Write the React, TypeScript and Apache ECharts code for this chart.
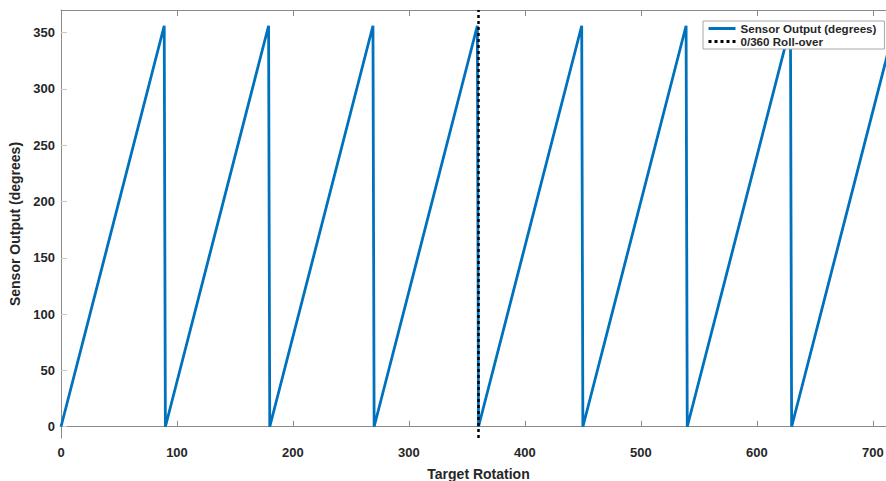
import React, { useEffect, useRef } from "react";
import * as echarts from "echarts";

// Sawtooth key points: [target rotation, sensor output]
const targetRotation = [0, 89, 90, 179, 180, 269, 270, 359, 360, 449, 450, 539, 540, 629, 630, 719];
const sensorOutput = [0, 356, 0, 356, 0, 356, 0, 356, 0, 356, 0, 356, 0, 356, 0, 356];
const rollOverX = [360, 360];
const rollOverY = [-10, 370];
const xTicks = [0, 100, 200, 300, 400, 500, 600, 700];
const yTicks = [0, 50, 100, 150, 200, 250, 300, 350];

const FONT = "Liberation Sans, Arial, Helvetica, sans-serif";
const TXT = "#262626";
const AX = "#8a8a8a";

export default function App() {
  const ref = useRef<HTMLDivElement>(null);
  useEffect(() => {
    if (!ref.current) return;
    const chart = echarts.init(ref.current, null, { renderer: "svg" });
    const sensorData = targetRotation.map((x, i) => [x, sensorOutput[i]]);
    const rollData = rollOverX.map((x, i) => [x, rollOverY[i]]);
    chart.setOption({
      animation: false,
      backgroundColor: "#ffffff",
      textStyle: { fontFamily: FONT },
      grid: { left: 61, top: 10, bottom: 43, width: 835, containLabel: false, outerBoundsMode: "none" },
      legend: {
        orient: "vertical",
        left: 703,
        top: 21,
        padding: [1, 8, 1, 4],
        itemGap: 0,
        itemWidth: 27,
        itemHeight: 12,
        backgroundColor: "#ffffff",
        borderColor: "#a8a8a8",
        borderWidth: 1,
        borderRadius: 0,
        itemStyle: { opacity: 0 },
        lineStyle: { width: 3 },
        textStyle: { fontFamily: FONT, fontWeight: "bold", fontSize: 11.6, color: TXT, lineHeight: 13 },
        data: ["Sensor Output (degrees)", "0/360 Roll-over"],
      },
      xAxis: [
        {
          type: "value",
          min: 0,
          max: 720,
          position: "bottom",
          name: "Target Rotation",
          nameLocation: "middle",
          nameGap: 29,
          nameTextStyle: { fontFamily: FONT, fontWeight: "bold", fontSize: 14, color: TXT },
          axisLine: { show: true, lineStyle: { color: AX, width: 1 } },
          axisTick: { show: true, inside: true, length: 6, customValues: xTicks, lineStyle: { color: AX } },
          axisLabel: { customValues: xTicks, fontFamily: FONT, fontWeight: "bold", fontSize: 13, color: TXT, margin: 8 },
          splitLine: { show: false },
        },
        {
          type: "value",
          min: 0,
          max: 720,
          position: "top",
          axisLine: { show: true, lineStyle: { color: AX, width: 1 } },
          axisTick: { show: true, inside: true, length: 6, customValues: xTicks, lineStyle: { color: AX } },
          axisLabel: { show: false },
          splitLine: { show: false },
        },
      ],
      yAxis: {
        type: "value",
        min: -10,
        max: 370,
        name: "Sensor Output (degrees)",
        nameLocation: "middle",
        nameGap: 36,
        nameTextStyle: { fontFamily: FONT, fontWeight: "bold", fontSize: 14, color: TXT },
        axisLine: { show: true, lineStyle: { color: AX, width: 1 } },
        axisTick: { show: true, inside: true, length: 6, customValues: yTicks, lineStyle: { color: "#c8c8c8" } },
        axisLabel: { customValues: yTicks, fontFamily: FONT, fontWeight: "bold", fontSize: 13, color: TXT, margin: 6 },
        splitLine: { show: false },
      },
      series: [
        {
          name: "Sensor Output (degrees)",
          type: "line",
          xAxisIndex: 0,
          data: sensorData,
          symbol: "none",
          clip: true,
          color: "#0072BD",
          lineStyle: { color: "#0072BD", width: 2.8 },
        },
        {
          name: "0/360 Roll-over",
          type: "line",
          xAxisIndex: 0,
          data: rollData,
          symbol: "none",
          clip: true,
          color: "#000000",
          lineStyle: { color: "#000000", width: 2.5, type: [3, 3] },
        },
      ],
    });
    return () => chart.dispose();
  }, []);
  return <div ref={ref} style={{ width: 886, height: 481, position: "absolute", left: 0, top: 0 }} />;
}
